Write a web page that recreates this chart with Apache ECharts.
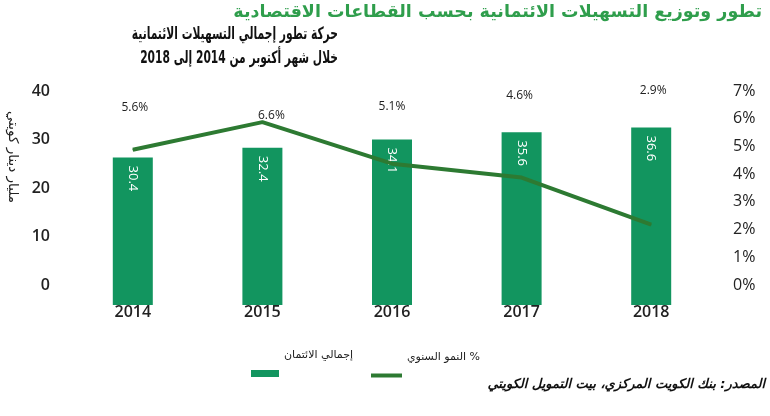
<!DOCTYPE html>
<html>

	<head>
		<meta charset="UTF-8">
		<title></title>
		<style>
			html,
			body {
				margin: 0;
				padding: 0;
				background: #fff;
			}
			
			#main {
				width: 770px;
				height: 416px;
			}
		</style>
	</head>

	<body>
		<div id="main"></div>

		<script type="text/javascript" src="https://cdn.jsdelivr.net/npm/echarts@6/dist/echarts.min.js"></script>
		<script>
			// 数据
			var years = ['2014', '2015', '2016', '2017', '2018'];
			var credit = [30.4, 32.4, 34.1, 35.6, 36.6]; // مليار دينار كويتي
			var growth = [5.6, 6.6, 5.1, 4.6, 2.9]; // %
			var creditName = 'إجمالي الائتمان';
			var growthName = 'النمو السنوي %';

			// growth labels float above the line at uneven heights
			var growthLabelOffset = [
				[2, -36],
				[9, 0],
				[0, -51],
				[-2, -75],
				[2, -128]
			];

			var arFont = '"DejaVu Sans", sans-serif';
			var numFont = '"Open Sans", sans-serif';
			var barColor = '#12955f';
			var lineColor = '#2d7a32';

			var growthData = [];
			for(var i = 0; i < growth.length; i++) {
				growthData.push({
					value: growth[i],
					label: {
						offset: growthLabelOffset[i]
					}
				});
			}

			// legend text sits above its swatch
			var legendText = {
				fontFamily: arFont,
				fontSize: 11,
				color: '#222',
				rich: {
					a: {
						fontFamily: arFont,
						fontSize: 11,
						color: '#222',
						padding: [0, 0, 36, 0]
					}
				}
			};

			var tickLabel = {
				fontFamily: numFont,
				fontSize: 16,
				color: '#222'
			};

			var myChart = echarts.init(document.getElementById('main'));

			var option = {
				animation: false,
				// grid 0 = the plot, grid 1 = tick labels (printed ~20px higher than the plot)
				grid: [{
					left: 68,
					right: 54,
					top: 111,
					bottom: 111
				}, {
					left: 68,
					right: 54,
					top: 91,
					bottom: 131
				}],
				legend: [{
					data: [creditName],
					left: 251,
					top: 350,
					padding: 0,
					icon: 'rect',
					itemWidth: 28,
					itemHeight: 7,
					formatter: '{a|{name}}',
					textStyle: legendText
				}, {
					data: [growthName],
					left: 371,
					top: 352,
					padding: 0,
					icon: 'rect',
					itemWidth: 31,
					itemHeight: 4,
					formatter: '{a|{name}}',
					textStyle: legendText
				}],
				xAxis: [{
					gridIndex: 0,
					type: 'category',
					data: years,
					axisLine: {
						show: false
					},
					axisTick: {
						show: false
					},
					axisLabel: {
						margin: -1,
						fontFamily: numFont,
						fontSize: 16,
						fontWeight: 600,
						color: '#222'
					}
				}, {
					gridIndex: 1,
					type: 'category',
					data: years,
					show: false
				}],
				yAxis: [{
					gridIndex: 0,
					type: 'value',
					min: 0,
					max: 40,
					interval: 10,
					show: false
				}, {
					gridIndex: 0,
					type: 'value',
					min: 0,
					max: 7,
					interval: 1,
					show: false
				}, {
					gridIndex: 1,
					type: 'value',
					position: 'left',
					min: 0,
					max: 40,
					interval: 10,
					splitLine: {
						show: false
					},
					axisLabel: {
						margin: 18,
						fontFamily: tickLabel.fontFamily,
						fontSize: tickLabel.fontSize,
						fontWeight: 600,
						color: tickLabel.color
					}
				}, {
					gridIndex: 1,
					type: 'value',
					position: 'right',
					min: 0,
					max: 7,
					interval: 1,
					splitLine: {
						show: false
					},
					axisLabel: {
						margin: 17,
						fontFamily: tickLabel.fontFamily,
						fontSize: tickLabel.fontSize,
						color: tickLabel.color,
						formatter: '{value}%'
					}
				}],
				graphic: [{
					type: 'text',
					right: 8,
					top: 3,
					style: {
						text: 'تطور وتوزيع التسهيلات الائتمانية بحسب القطاعات الاقتصادية',
						font: 'bold 17.5px ' + arFont,
						fill: '#2f9e4c'
					}
				}, {
					type: 'text',
					x: 338,
					y: 47,
					scaleX: 0.63,
					style: {
						text: 'حركة تطور إجمالي التسهيلات الائتمانية\nخلال شهر أكتوبر من 2014 إلى 2018',
						font: 'bold 17px ' + arFont,
						fill: '#111',
						align: 'right',
						verticalAlign: 'middle',
						lineHeight: 24
					}
				}, {
					type: 'text',
					x: 12,
					y: 157,
					rotation: -Math.PI / 2,
					style: {
						text: 'مليار دينار كويتي',
						font: '13.5px ' + arFont,
						fill: '#222',
						align: 'center',
						verticalAlign: 'middle'
					}
				}, {
					type: 'text',
					x: 765,
					y: 385,
					style: {
						text: 'المصدر: بنك الكويت المركزي، بيت التمويل الكويتي',
						font: 'italic bold 13px ' + arFont,
						fill: '#111',
						align: 'right',
						verticalAlign: 'middle'
					}
				}],
				series: [{
					name: creditName,
					type: 'bar',
					xAxisIndex: 0,
					yAxisIndex: 0,
					barWidth: 40,
					data: credit,
					itemStyle: {
						color: barColor
					},
					label: {
						show: true,
						position: 'insideTop',
						distance: 8,
						rotate: -90,
						align: 'left',
						verticalAlign: 'middle',
						fontFamily: numFont,
						fontSize: 13,
						color: '#fff'
					}
				}, {
					name: growthName,
					type: 'line',
					xAxisIndex: 0,
					yAxisIndex: 1,
					data: growthData,
					symbol: 'circle',
					symbolSize: 1,
					lineStyle: {
						color: lineColor,
						width: 4
					},
					itemStyle: {
						color: lineColor
					},
					label: {
						show: true,
						position: 'top',
						distance: 0,
						fontFamily: numFont,
						fontSize: 12,
						color: '#222',
						formatter: function(p) {
							return p.value.toFixed(1) + '%';
						}
					}
				}]
			};
			myChart.setOption(option);
		</script>

	</body>

</html>
